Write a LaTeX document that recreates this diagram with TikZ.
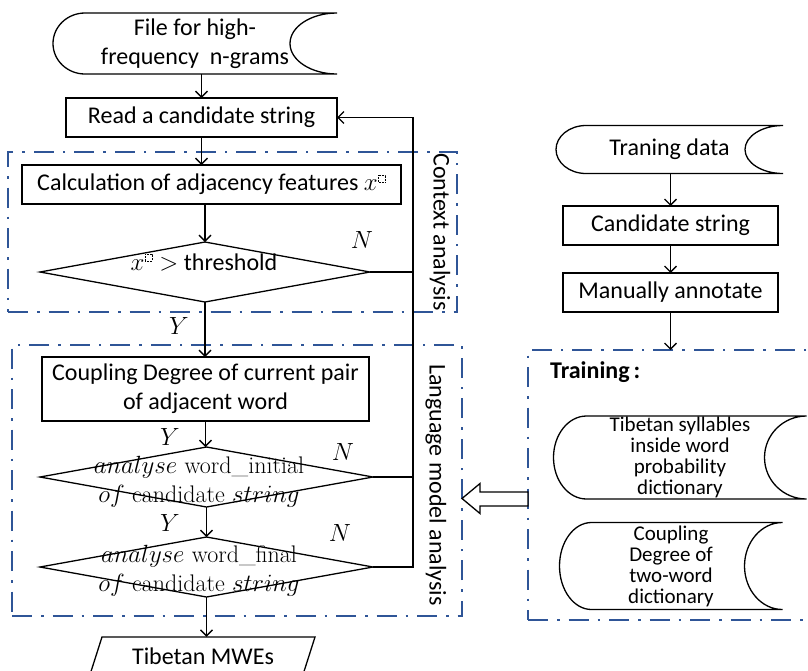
\documentclass[tikz,border=0pt]{standalone}
\usepackage{fontspec}
\setmainfont{Carlito}
\usetikzlibrary{shapes.geometric,arrows.meta,calc}
\definecolor{frameblue}{HTML}{2F5597}

% small dotted placeholder box used as a superscript
\newcommand\dotbox{\tikz[x=1pt,y=1pt,baseline=0pt]\draw[densely dotted,line width=0.5pt] (0,0) rectangle (7,7);}
% serif text (Latin Modern) for the formula-like labels
\newcommand\lmtext[1]{{\fontfamily{lmr}\selectfont #1}}
% outline of a "stored data" symbol around a node
\newcommand\storedoutline[4]{%
  \draw[flow] ([xshift=#2]#1.south west)
    arc[start angle=270,end angle=90,x radius=#2,y radius=#4]
    -- (#1.north east)
    arc[start angle=90,end angle=270,x radius=#3,y radius=#4] -- cycle;}

\tikzset{
  flow/.style={line width=1.3pt},
  arr/.style={flow,-{Straight Barb[length=6pt,width=12pt,line width=1.3pt]}},
  procbox/.style={draw,line width=1.3pt,inner sep=0pt,outer sep=0pt,align=center},
  storednode/.style={inner sep=0pt,outer sep=0pt,align=center},
  decision/.style={diamond,draw,line width=1.3pt,inner sep=0pt,outer sep=0pt},
  dtext/.style={align=center,inner sep=0pt},
  group/.style={draw=frameblue,line width=2.4pt,inner sep=0pt,outer sep=0pt,
    dash pattern=on 20pt off 9pt on 2.5pt off 9pt},
  yn/.style={font=\fontsize{23}{26}\selectfont},
  grouplabel/.style={rotate=-90,inner sep=0pt},
  dictfont/.style={font=\fontsize{21}{21}\selectfont},
}

\begin{document}
\begin{tikzpicture}[x=1pt,y=-1pt,font=\fontsize{24}{29}\selectfont]
\useasboundingbox (0,0) rectangle (808,670);
\begin{scope}
\clip (0,0) rectangle (808,670);

% dash-dot group frames
\node[group,minimum width=449,minimum height=160] (ctxbox) at (232.5,232) {};
\node[group,minimum width=450,minimum height=271] (lmbox) at (237,480.5) {};
\node[group,minimum width=302,minimum height=270] (trainbox) at (679,485) {};
\node[grouplabel] (ctxlabel) at (440,232) {Context analysis};
\node[grouplabel] (lmlabel) at (436,485) {Language model analysis};

% main flow
\node[storednode,minimum width=284,minimum height=61] (file) at (195,43.5)
  {File for high-\\frequency~ n-grams};
\storedoutline{file}{32pt}{47pt}{30.5pt}

\node[procbox,minimum width=271,minimum height=39] (read) at (201.5,117.5)
  {Read a candidate string};
\node[procbox,minimum width=379,minimum height=39] (calc) at (211.5,184.5)
  {Calculation of adjacency features $x^{\dotbox}$};

\node[decision,minimum width=330,minimum height=60] (d1) at (205,272) {};
\node[dtext] (d1t) at (204,262) {$x^{\dotbox} >$ threshold};

\node[procbox,minimum width=327,minimum height=64] (coup) at (205.5,389)
  {Coupling Degree of current pair\\of adjacent word};

\node[decision,minimum width=333,minimum height=60] (d2) at (206.5,477) {};
\node[dtext] (d2t) at (199,482) {\lmtext{$analyse$ word\_initial}\\[0pt]\lmtext{$of$ candidate $string$}};

\node[decision,minimum width=333,minimum height=60] (d3) at (206.5,567) {};
\node[dtext] (d3t) at (199,571) {\lmtext{$analyse$ word\_final}\\[0pt]\lmtext{$of$ candidate $string$}};

\node[inner sep=0pt,minimum height=38] (mwe) at (203,656) {Tibetan MWEs};
\draw[flow] (102,637) -- (315,637) -- (300,684) -- (87,684) -- cycle;

% connectors of the main flow
\draw[arr] (file.south -| read.north) -- (read.north);
\draw[arr] (read.south) -- (read.south |- calc.north);
\draw[arr] (d1.north |- calc.south) -- (d1.north);
\draw[arr] (d1.south) -- (d1.south |- coup.north);
\draw[arr] (coup.south) -- (coup.south |- d2.north);
\draw[arr] (d2.south) -- (d2.south |- d3.north);
\draw[arr] (d3.south) -- (d3.south |- mwe.north);

% "no" branches back to reading
\coordinate (rail) at (413,0);
\draw[arr] (d3.east) -- (d3.east -| rail) -- (d1.east -| rail) |- (read.east);
\draw[flow] (d1.east) -- (d1.east -| rail);
\draw[flow] (d2.east) -- (d2.east -| rail);

% branch labels
\node[yn] (n1) at (362,240) {$N$};
\node[yn] (y1) at (179,326) {$Y$};
\node[yn] (y2) at (170,437) {$Y$};
\node[yn] (n2) at (343,452) {$N$};
\node[yn] (y3) at (170,523) {$Y$};
\node[yn] (n3) at (340,533) {$N$};

% training side
\node[storednode,minimum width=227,minimum height=48] (train) at (669.5,149.5) {Traning data};
\storedoutline{train}{30pt}{38pt}{24pt}
\node[procbox,minimum width=215,minimum height=39] (cand) at (670.5,225.5) {Candidate string};
\node[procbox,minimum width=215,minimum height=39] (manual) at (670.5,292.5) {Manually annotate};

\draw[arr] (train.south -| cand.north) -- (cand.north);
\draw[arr] (cand.south) -- (manual.north);
\draw[arr] (manual.south) -- (manual.south |- trainbox.north);

\node[anchor=west,inner sep=0pt,font=\fontsize{24}{29}\selectfont\bfseries] (trainlabel) at (550,372) {Training\,:};

\node[storednode,dictfont,minimum width=253,minimum height=83] (dict1) at (680,457.5)
  {Tibetan syllables\\inside word\\probability\\dictionary};
\storedoutline{dict1}{33pt}{42pt}{41.5pt}

\node[storednode,dictfont,minimum width=223,minimum height=87] (dict2) at (671,566)
  {Coupling\\Degree of\\two-word\\dictionary};
\storedoutline{dict2}{32pt}{38pt}{43.5pt}

% hollow arrow from the training frame to the language model frame
\draw[flow,fill=white] (trainbox.west |- 0,492) -- (480,492) -- (480,483.5)
  -- (lmbox.east |- 0,498.5) -- (480,513.5) -- (480,506) -- (trainbox.west |- 0,506) -- cycle;

\end{scope}
\end{tikzpicture}
\end{document}
